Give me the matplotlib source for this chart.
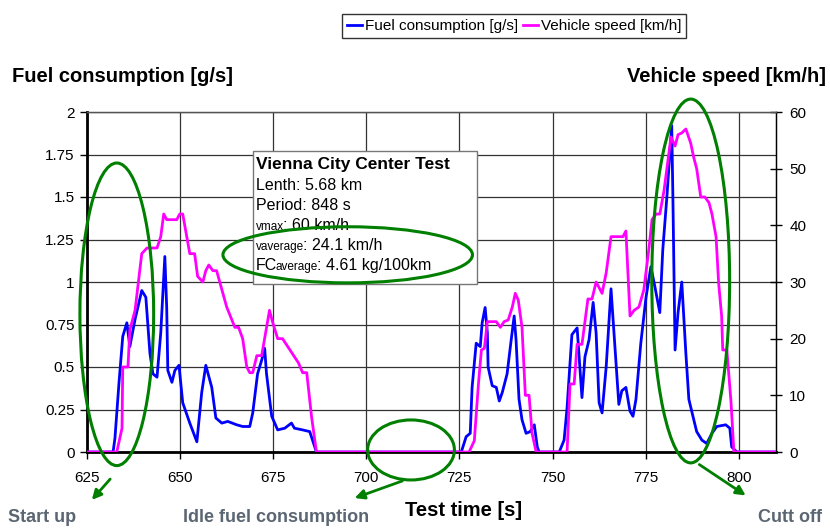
import numpy as np
import matplotlib
matplotlib.use('Agg')
import matplotlib.pyplot as plt
from matplotlib.patches import Ellipse, Rectangle, FancyArrowPatch
from matplotlib.text import Annotation

plt.rcParams['font.family'] = ['Liberation Sans', 'DejaVu Sans']

## data

# fuel consumption [g/s] (left axis)
fuel_t = [625.0, 632.0, 632.5, 633.6, 634.6, 635.7, 636.5, 637.9, 639.7, 640.8,
          641.9, 642.7, 643.8, 644.8, 645.9, 646.4, 646.7, 647.8, 648.6, 649.7,
          650.7, 652.6, 654.5, 655.8, 656.9, 658.5, 659.6, 661.2, 662.8, 665.2,
          666.8, 668.7, 669.5, 670.8, 671.9, 672.7, 673.2, 674.6, 676.2, 678.1,
          679.9, 680.7, 682.9, 684.8, 686.6, 725.5, 726.8, 727.9, 728.4, 729.5,
          730.6, 731.1, 731.9, 732.5, 732.7, 733.8, 734.9, 735.7, 736.5, 737.8,
          738.9, 739.7, 740.2, 741.0, 741.8, 742.9, 744.0, 745.1, 745.9, 746.4,
          751.8, 753.1, 753.9, 755.2, 756.6, 757.9, 758.7, 759.8, 760.9, 761.7,
          762.5, 763.3, 764.4, 765.7, 766.5, 767.8, 768.6, 769.7, 770.8, 771.6,
          772.4, 773.7, 775.1, 776.4, 777.5, 778.8, 779.6, 780.7, 782.0, 782.3,
          782.9, 783.7, 784.7, 785.8, 786.6, 787.7, 788.7, 790.1, 791.4, 792.8,
          794.1, 796.5, 797.6, 798.1, 799.5, 810.0]
fuel_gs = [0, 0, 0.08, 0.41, 0.68, 0.76, 0.62, 0.78, 0.95, 0.91,
           0.58, 0.46, 0.44, 0.70, 1.15, 0.85, 0.48, 0.41, 0.48, 0.51,
           0.29, 0.17, 0.06, 0.35, 0.51, 0.38, 0.20, 0.17, 0.18, 0.16,
           0.15, 0.15, 0.23, 0.46, 0.54, 0.61, 0.46, 0.21, 0.13, 0.14,
           0.17, 0.14, 0.13, 0.12, 0, 0, 0.09, 0.11, 0.38, 0.64,
           0.62, 0.76, 0.85, 0.70, 0.50, 0.39, 0.38, 0.30, 0.35, 0.46,
           0.66, 0.80, 0.66, 0.31, 0.19, 0.11, 0.12, 0.16, 0.03, 0,
           0, 0.07, 0.26, 0.69, 0.73, 0.32, 0.56, 0.66, 0.88, 0.70,
           0.29, 0.23, 0.50, 0.96, 0.70, 0.28, 0.36, 0.38, 0.24, 0.21,
           0.31, 0.64, 0.91, 1.09, 0.97, 0.82, 1.19, 1.50, 1.92, 1.52,
           0.60, 0.82, 1.00, 0.58, 0.31, 0.21, 0.12, 0.07, 0.05, 0.11,
           0.15, 0.16, 0.14, 0.03, 0, 0]

# vehicle speed [km/h] (right axis)
speed_t = [625.0, 633.0, 634.4, 634.6, 636.0, 636.5, 637.9, 639.7, 641.1, 643.8,
           644.8, 645.6, 646.4, 649.1, 649.9, 650.7, 652.6, 653.9, 654.7, 656.1,
           656.9, 657.7, 658.8, 659.8, 662.5, 664.7, 665.7, 666.8, 667.9, 668.7,
           669.5, 670.6, 671.9, 674.0, 674.8, 676.2, 677.5, 679.9, 681.8, 682.9,
           684.0, 685.3, 686.6, 727.6, 729.0, 730.1, 730.9, 731.7, 732.5, 734.9,
           736.0, 737.0, 738.1, 739.2, 740.0, 740.8, 741.8, 742.7, 743.7, 744.5,
           745.6, 753.9, 754.7, 755.8, 756.6, 757.9, 758.7, 759.5, 760.6, 761.7,
           763.3, 764.4, 765.7, 768.9, 769.7, 770.8, 771.9, 773.2, 774.5, 775.9,
           776.7, 777.8, 778.8, 779.9, 780.7, 781.8, 782.9, 783.7, 784.7, 785.8,
           787.1, 787.9, 788.7, 789.8, 790.9, 792.0, 792.8, 793.9, 794.6, 795.4,
           795.7, 796.8, 797.9, 798.7, 810.0]
speed_kmh = [0, 0, 4.2, 15, 15, 21.5, 25, 35, 36, 36,
             38, 42, 41, 41, 42, 42, 35, 35, 31, 30,
             32, 33, 32, 32, 25.6, 22, 22, 20, 15, 14,
             14, 17, 17, 25, 23, 20, 20, 17.6, 15.7, 14,
             14, 6.2, 0, 0, 2, 12, 18, 18.3, 23, 23,
             22, 23, 23.3, 25.6, 28, 26.8, 22, 10, 10, 3.3,
             0, 0, 12, 12, 19, 19, 23, 27, 27, 30,
             28, 31.6, 38, 38, 39, 24, 25, 25.6, 28.6, 36,
             41, 42, 42, 46, 50, 55.6, 54, 56, 56.3, 57,
             54.5, 52, 50, 45, 45, 44, 42, 38, 29.8, 24,
             18, 18, 9, 0, 0]

x_ticks = [625, 650, 675, 700, 725, 750, 775, 800]
fuel_ticks = [0, 0.25, 0.5, 0.75, 1, 1.25, 1.5, 1.75, 2]
fuel_ticklabels = ['0', '0.25', '0.5', '0.75', '1', '1.25', '1.5', '1.75', '2']
speed_ticks = [0, 10, 20, 30, 40, 50, 60]

info_title = 'Vienna City Center Test'
info_lines = ['Lenth: 5.68 km', 'Period: 848 s']

W, H = 830, 528
def fx(px):
    return px / W
def fy(py):
    return 1 - py / H

green = '#007f00'
note_col = '#5b6673'

fig = plt.figure(figsize=(8.3, 5.28), dpi=100)
ax = fig.add_axes([fx(87), fy(452), fx(776) - fx(87), fy(112) - fy(452)])
ax2 = ax.twinx()

l1, = ax.plot(fuel_t, fuel_gs, color='#0000ff', lw=2.0, zorder=3,
              label='Fuel consumption [g/s]')
l2, = ax2.plot(speed_t, speed_kmh, color='#ff00ff', lw=2.0, zorder=3,
               label='Vehicle speed [km/h]')

ax.set_xlim(625, 810)
ax.set_ylim(0, 2)
ax2.set_ylim(0, 60)
ax.set_xticks(x_ticks)
ax.set_yticks(fuel_ticks)
ax.set_yticklabels(fuel_ticklabels)
ax2.set_yticks(speed_ticks)

ax.grid(True, color='#333333', lw=0.9)
ax.set_axisbelow(True)
ax.tick_params(axis='both', labelsize=11, direction='out', length=5, width=1)
ax.tick_params(axis='x', pad=9)
ax.tick_params(axis='y', pad=4)
ax2.tick_params(axis='y', labelsize=11, direction='inout', length=9, width=1, pad=5)
for a in (ax, ax2):
    a.spines['top'].set_color('#555555')
    a.spines['top'].set_linewidth(0.9)
ax.spines['left'].set_linewidth(2)
ax.spines['bottom'].set_linewidth(2)
ax2.spines['left'].set_visible(False)
ax2.spines['bottom'].set_visible(False)
ax2.spines['right'].set_linewidth(1)

# axis titles
fig.text(fx(12), fy(77), 'Fuel consumption [g/s]', fontsize=14.5, fontweight='bold',
         ha='left', va='center')
fig.text(fx(826), fy(77), 'Vehicle speed [km/h]', fontsize=14.5, fontweight='bold',
         ha='right', va='center')
fig.text(fx(464), fy(510), 'Test time [s]', fontsize=14.5, fontweight='bold',
         ha='center', va='center')

fig.legend(handles=[l1, l2], loc='center', bbox_to_anchor=(fx(514), fy(26)), ncol=2,
           fontsize=11, frameon=True, fancybox=False, edgecolor='#333333',
           framealpha=1, handlelength=1.0, handletextpad=0.2, columnspacing=0.3,
           borderpad=0.3, borderaxespad=0)

# info box
fig.add_artist(Rectangle((fx(253), fy(284)), fx(477) - fx(253), fy(151) - fy(284),
                         transform=fig.transFigure, facecolor='white',
                         edgecolor='#777777', lw=1, zorder=4))
fig.text(fx(256), fy(169), info_title, fontsize=12.5, fontweight='bold',
         va='baseline', zorder=5)
fig.text(fx(256), fy(190), info_lines[0], fontsize=11.5, va='baseline', zorder=5)
fig.text(fx(256), fy(210), info_lines[1], fontsize=11.5, va='baseline', zorder=5)

def mixed_line(py, parts):
    # pieces of one line in different sizes, each placed after the previous one
    prev = fig.text(fx(256), fy(py), parts[0][0], fontsize=parts[0][1],
                    va='baseline', zorder=5)
    for s, size in parts[1:]:
        prev = fig.add_artist(Annotation(
            s, xy=(1, 0), xycoords=prev, xytext=(-1, 0), textcoords='offset points',
            va='bottom', ha='left', fontsize=size, zorder=5))

mixed_line(230, [('vmax', 8.5), (': 60 km/h', 11.5)])
mixed_line(250, [('vaverage', 8.5), (': 24.1 km/h', 11.5)])
mixed_line(270, [('FC', 11.5), ('average', 8.5), (': 4.61 kg/100km', 11.5)])

# green ellipses (data coordinates of the fuel axis)
for cx, cy, w, h in [(633.0, 0.81, 19.8, 1.78), (695.0, 1.16, 67.0, 0.33),
                     (712.0, 0.012, 23.3, 0.353), (787.1, 1.006, 20.9, 2.14)]:
    fig.add_artist(Ellipse((cx, cy), w, h, transform=ax.transData, fill=False,
                           edgecolor=green, lw=2.2, zorder=6))

# arrows + notes
for (x0, y0), (x1, y1) in [((112, 477), (90, 502)), ((405, 480), (352, 499)),
                           ((697, 463), (748, 497))]:
    fig.add_artist(FancyArrowPatch((fx(x0), fy(y0)), (fx(x1), fy(y1)),
                                   transform=fig.transFigure, arrowstyle='-|>',
                                   mutation_scale=14, lw=2, color=green, zorder=6))
fig.text(fx(8), fy(517), 'Start up', fontsize=13, fontweight='bold', color=note_col,
         ha='left', va='center')
fig.text(fx(183), fy(517), 'Idle fuel consumption', fontsize=13, fontweight='bold',
         color=note_col, ha='left', va='center')
fig.text(fx(822), fy(517), 'Cutt off', fontsize=13, fontweight='bold', color=note_col,
         ha='right', va='center')

fig.savefig('out.png', dpi=100)
